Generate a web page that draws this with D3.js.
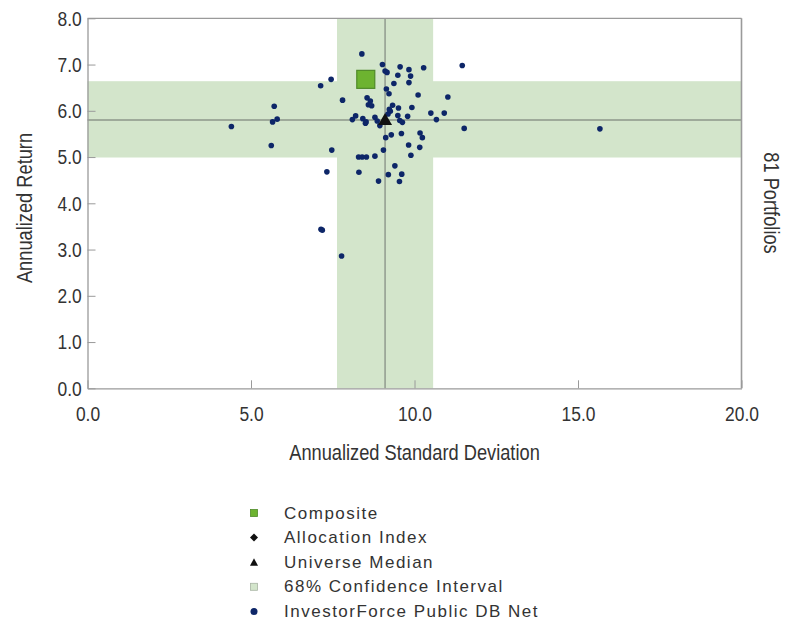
<!DOCTYPE html>
<html>
<head>
<meta charset="utf-8">
<script src="https://cdn.jsdelivr.net/npm/d3@7"></script>
<style>
  html, body { margin: 0; padding: 0; background: #fff; }
  svg { display: block; }
  text { font-family: "Liberation Sans", Arial, sans-serif; fill: #333; }
</style>
</head>
<body>
<svg id="chart" width="787" height="621"></svg>
<script>
// Universe portfolios: annualized standard deviation / annualized return
const universeRisk = [
  8.39, 9.02, 9.10, 9.16, 9.56, 9.83, 10.28, 11.46, 9.49, 9.88,
  9.83, 9.37, 7.45, 7.13, 9.14, 9.22, 10.11, 11.02, 7.80, 8.55,
  8.65, 8.59, 8.69, 5.71, 9.33, 9.51, 9.92, 9.26, 9.19, 10.50,
  10.91, 9.49, 9.79, 10.67, 5.80, 5.66, 4.40, 8.20, 8.10, 8.42,
  8.52, 8.50, 8.79, 8.86, 8.94, 9.55, 9.63, 11.52, 15.67, 9.12,
  9.29, 9.60, 10.17, 10.24, 5.62, 9.82, 10.16, 9.89, 9.05, 7.47,
  8.29, 8.40, 8.53, 8.79, 9.40, 7.32, 8.30, 9.20, 9.61, 8.90,
  9.54, 7.14, 7.18, 7.77, 9.23
];
const universeReturn = [
  7.23, 7.00, 6.86, 6.83, 6.95, 6.89, 6.93, 6.98, 6.77, 6.75,
  6.61, 6.59, 6.68, 6.54, 6.47, 6.37, 6.34, 6.30, 6.23, 6.28,
  6.21, 6.13, 6.11, 6.10, 6.12, 6.06, 6.07, 5.99, 5.93, 5.95,
  5.95, 5.90, 5.88, 5.81, 5.82, 5.76, 5.66, 5.89, 5.81, 5.83,
  5.76, 5.73, 5.86, 5.78, 5.68, 5.79, 5.75, 5.62, 5.61, 5.42,
  5.48, 5.51, 5.52, 5.42, 5.25, 5.26, 5.21, 5.04, 5.15, 5.15,
  5.00, 5.00, 5.00, 5.02, 4.81, 4.68, 4.67, 4.62, 4.63, 4.48,
  4.47, 3.44, 3.42, 2.86, 6.03
];

// Composite and universe median (risk, return)
const composite = [8.51, 6.68];
const universeMedian = [9.10, 5.80];

// 68% confidence interval ranges
const riskInterval = [7.63, 10.57];
const returnInterval = [4.99, 6.64];

const xTicks = [0, 5, 10, 15, 20];
const yTicks = [0, 1, 2, 3, 4, 5, 6, 7, 8];

const portfolioCount = "81 Portfolios";

const legendItems = ["Composite", "Allocation Index", "Universe Median", "68% Confidence Interval", "InvestorForce Public DB Net"];

const svg = d3.select("#chart");

const x = d3.scaleLinear().domain([0, 20]).range([87.5, 741.5]);
const y = d3.scaleLinear().domain([0, 8]).range([388.3, 18.3]);

const bandColor = "#d3e5cb";
const dotColor = "#0d2668";
const squeeze = 0.83; // condensed look for axis text

// confidence interval cross
svg.append("rect")
  .attr("x", x(riskInterval[0])).attr("width", x(riskInterval[1]) - x(riskInterval[0]))
  .attr("y", y(8)).attr("height", y(0) - y(8))
  .attr("fill", bandColor);
svg.append("rect")
  .attr("x", x(0)).attr("width", x(20) - x(0))
  .attr("y", y(returnInterval[1])).attr("height", y(returnInterval[0]) - y(returnInterval[1]))
  .attr("fill", bandColor);

// median cross-hair
svg.append("line")
  .attr("x1", x(universeMedian[0])).attr("x2", x(universeMedian[0]))
  .attr("y1", y(8)).attr("y2", y(0))
  .attr("stroke", "#8c968a").attr("stroke-width", 1.4);
svg.append("line")
  .attr("x1", x(0)).attr("x2", x(20))
  .attr("y1", y(universeMedian[1])).attr("y2", y(universeMedian[1]))
  .attr("stroke", "#8c968a").attr("stroke-width", 1.4);

// universe dots
svg.append("g").selectAll("circle")
  .data(universeRisk.map((r, i) => [r, universeReturn[i]]))
  .join("circle")
  .attr("cx", d => x(d[0])).attr("cy", d => y(d[1]))
  .attr("r", 2.8)
  .attr("fill", dotColor);

// composite square
const sq = 18;
svg.append("rect")
  .attr("x", x(composite[0]) - sq / 2).attr("y", y(composite[1]) - sq / 2)
  .attr("width", sq).attr("height", sq)
  .attr("fill", "#6db330").attr("stroke", "#4f8a28").attr("stroke-width", 1.2);

// universe median triangle
svg.append("path")
  .attr("transform", `translate(${x(universeMedian[0])},${y(universeMedian[1])})`)
  .attr("d", "M0,-7 L7,5 L-7,5 Z")
  .attr("fill", "#111");

// axes
const axisColor = "#9a9a9a";
const xAxis = d3.axisBottom(x).tickValues(xTicks).tickFormat(d3.format(".1f")).tickSizeInner(-8).tickSizeOuter(0).tickPadding(18);
const yAxis = d3.axisLeft(y).tickValues(yTicks).tickFormat(d3.format(".1f")).tickSizeInner(-8).tickSizeOuter(0).tickPadding(7);

const gx = svg.append("g").attr("transform", `translate(0,${y(0)})`).call(xAxis);
const gy = svg.append("g").attr("transform", `translate(${x(0)},0)`).call(yAxis);
[gx, gy].forEach(g => {
  g.select(".domain").attr("stroke", axisColor).attr("stroke-width", 1.3);
  g.selectAll(".tick line").attr("stroke", axisColor);
  g.selectAll(".tick text").attr("font-size", 21).attr("fill", "#333")
    .attr("transform", `scale(${squeeze},1)`)
    .style("font-family", "'Liberation Sans', Arial, sans-serif");
});

// top and right frame
svg.append("line").attr("x1", x(0)).attr("x2", x(20)).attr("y1", y(8)).attr("y2", y(8))
  .attr("stroke", axisColor).attr("stroke-width", 1.3);
svg.append("line").attr("x1", x(20)).attr("x2", x(20)).attr("y1", y(8)).attr("y2", y(0))
  .attr("stroke", axisColor).attr("stroke-width", 1.6);

// axis titles
svg.append("text")
  .attr("transform", `translate(${(x(0) + x(20)) / 2},460) scale(${squeeze},1)`)
  .attr("text-anchor", "middle").attr("font-size", 22)
  .text("Annualized Standard Deviation");
svg.append("text")
  .attr("transform", `translate(32,208) rotate(-90) scale(${squeeze},1)`)
  .attr("text-anchor", "middle").attr("font-size", 22)
  .text("Annualized Return");
svg.append("text")
  .attr("transform", `translate(764,203) rotate(90) scale(${squeeze},1)`)
  .attr("text-anchor", "middle").attr("font-size", 22)
  .text(portfolioCount);

// legend
const legend = svg.append("g").attr("transform", "translate(254,513)");
const rowH = 24.6;
legendItems.forEach((label, i) => {
  const g = legend.append("g").attr("transform", `translate(0,${i * rowH})`);
  if (i === 0) {
    g.append("rect").attr("x", -3.5).attr("y", -3.5).attr("width", 7).attr("height", 7)
      .attr("fill", "#6db330").attr("stroke", "#4f8a28").attr("stroke-width", 0.8);
  } else if (i === 1) {
    g.append("path").attr("d", "M0,-4 L4,0 L0,4 L-4,0 Z").attr("fill", "#111");
  } else if (i === 2) {
    g.append("path").attr("d", "M0,-4 L4,3.5 L-4,3.5 Z").attr("fill", "#111");
  } else if (i === 3) {
    g.append("rect").attr("x", -3.5).attr("y", -3.5).attr("width", 7).attr("height", 7)
      .attr("fill", bandColor).attr("stroke", "#a8b4a4").attr("stroke-width", 0.8);
  } else {
    g.append("circle").attr("r", 3.5).attr("fill", dotColor);
  }
  g.append("text").attr("x", 30).attr("y", 5.5)
    .attr("font-size", 17).attr("letter-spacing", 1.5).attr("fill", "#2a2a2a")
    .text(label);
});
</script>
</body>
</html>
